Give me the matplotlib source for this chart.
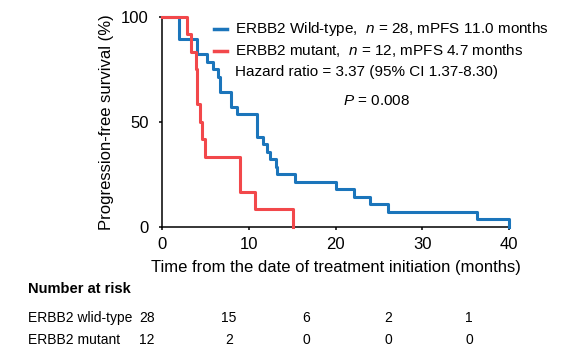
import matplotlib
matplotlib.use('Agg')
import matplotlib.pyplot as plt

plt.rcParams['font.family'] = ['Liberation Sans', 'DejaVu Sans']
plt.rcParams['mathtext.fontset'] = 'custom'
plt.rcParams['mathtext.it'] = 'Liberation Sans:italic'
plt.rcParams['mathtext.rm'] = 'Liberation Sans'

# Kaplan-Meier steps (months, % progression-free)
wt_time = [0, 2.0, 4.0, 5.2, 5.9, 6.4, 6.7, 8.0, 8.6, 11.0, 11.6, 12.1, 12.4,
           13.1, 13.3, 15.3, 20.1, 22.1, 24.0, 26.1, 36.3, 40.0]
wt_surv = [100, 89.3, 82.1, 78.6, 75.0, 71.4, 64.3, 57.1, 53.6, 42.9, 39.3,
           35.7, 32.1, 28.6, 25.0, 21.4, 17.9, 14.3, 10.7, 7.1, 3.6, 0]
mut_time = [0, 2.9, 3.4, 3.9, 4.0, 4.4, 4.6, 5.0, 9.0, 10.7, 15.1]
mut_surv = [100, 91.7, 83.3, 75.0, 58.3, 50.0, 41.7, 33.3, 16.7, 8.3, 0]

x_ticks = [0, 10, 20, 30, 40]
y_ticks = [0, 50, 100]
risk_rows = ['ERBB2 wlid-type', 'ERBB2 mutant']
risk_wt = [28, 15, 6, 2, 1]
risk_mut = [12, 2, 0, 0, 0]

blue = '#1b75bb'
red = '#f2484b'

fig = plt.figure(figsize=(5.65, 3.55), dpi=100)
ax = fig.add_axes([162/565, 1-226.7/355, 347/565, 210/355])

ax.step(wt_time, wt_surv, where='post', c=blue, lw=2.2, clip_on=False, zorder=3)
ax.step(mut_time, mut_surv, where='post', c=red, lw=2.2, clip_on=False, zorder=3)

ax.set_xlim(0, 40)
ax.set_ylim(0, 100)
ax.set_xticks(x_ticks)
ax.set_yticks(y_ticks)
ax.spines['top'].set_visible(False)
ax.spines['right'].set_visible(False)
ax.spines['left'].set_linewidth(1.1)
ax.spines['bottom'].set_linewidth(1.1)
ax.tick_params(direction='out', length=2.5, width=1.1, labelsize=12)
ax.tick_params(axis='y', pad=7)
ax.tick_params(axis='x', pad=5)
ax.set_xlabel('Time from the date of treatment initiation (months)', fontsize=12, labelpad=6)
ax.set_ylabel('Progression-free survival (%)', fontsize=12, labelpad=5)

# legend / annotations
ax.plot([0.150, 0.187], [0.941, 0.941], transform=ax.transAxes, c=blue, lw=2.5, clip_on=False)
ax.plot([0.150, 0.187], [0.838, 0.838], transform=ax.transAxes, c=red, lw=2.5, clip_on=False)
fs = 11
ax.text(0.210, 0.941, 'ERBB2 Wild-type,  $n$ = 28, mPFS 11.0 months', transform=ax.transAxes,
        fontsize=fs, va='center')
ax.text(0.210, 0.838, 'ERBB2 mutant,  $n$ = 12, mPFS 4.7 months', transform=ax.transAxes,
        fontsize=fs, va='center')
ax.text(0.210, 0.738, 'Hazard ratio = 3.37 (95% CI 1.37-8.30)', transform=ax.transAxes,
        fontsize=fs, va='center')
ax.text(0.522, 0.600, '$P$ = 0.008', transform=ax.transAxes, fontsize=fs, va='center')

# number at risk table
fig.text(28/565, 1-289/355, 'Number at risk', fontsize=10.5, fontweight='bold', va='center')
col_x = [147, 229, 306, 388, 469]
for label, vals, yp in zip(risk_rows, [risk_wt, risk_mut], [317.7, 340]):
    fig.text(28/565, 1-yp/355, label, fontsize=10, va='center')
    for cx, v in zip(col_x, vals):
        fig.text(cx/565, 1-yp/355, str(v), fontsize=10, va='center', ha='center')

fig.savefig('out.png', dpi=100)
